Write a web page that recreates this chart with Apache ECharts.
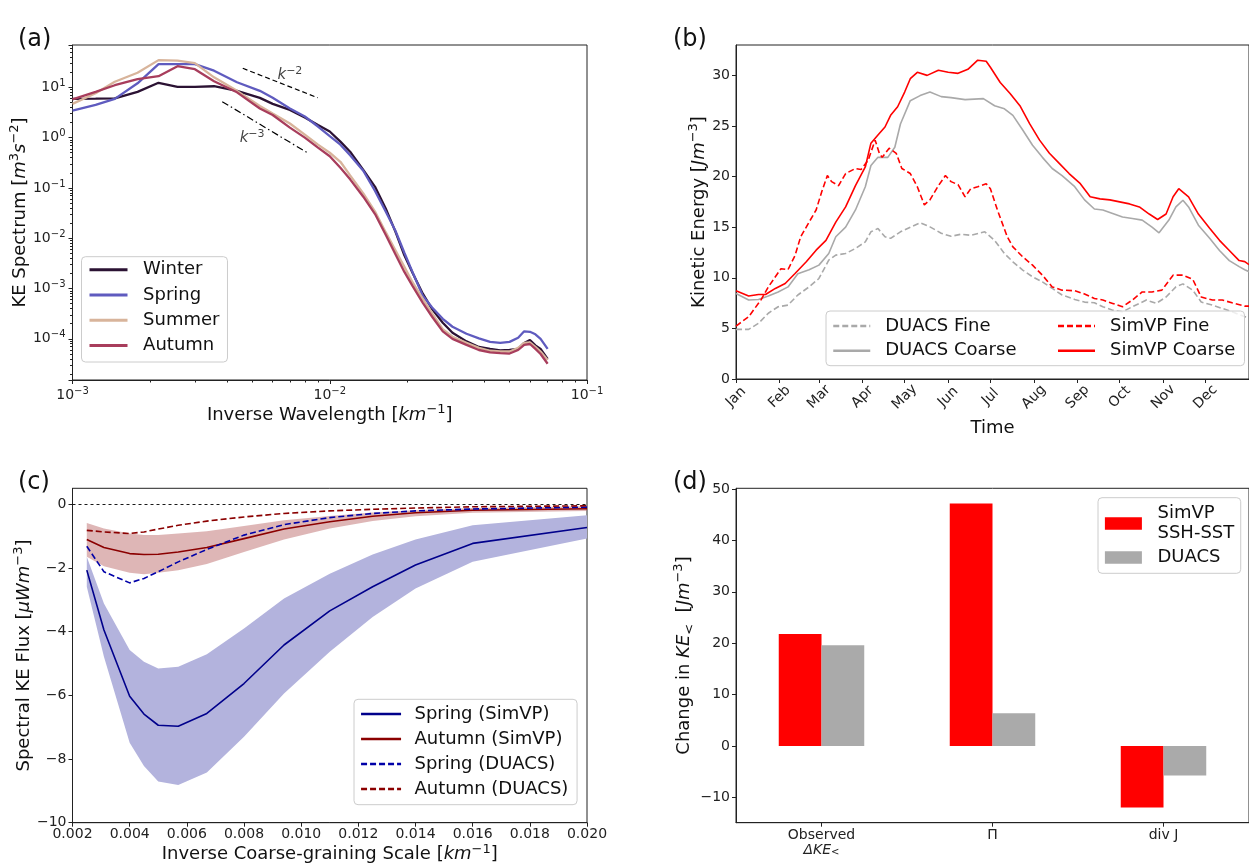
<!DOCTYPE html>
<html>
<head>
<meta charset="utf-8">
<script src="https://cdn.jsdelivr.net/npm/echarts@6/dist/echarts.min.js"></script>
<style>
  html, body { margin: 0; background: #fff; }
  #chart { width: 1249px; height: 865px; }
</style>
</head>
<body>
<div id="chart"></div>
<script>
const FONT = "DejaVu Sans";
const INK = "#222";

// (a) KE spectrum per season
let waveK = [0.00100, 0.00123, 0.00146, 0.00179, 0.00216, 0.00256, 0.00299, 0.00355, 0.00436, 0.00535,
  0.00600, 0.00700, 0.00800, 0.00900, 0.0100, 0.0110, 0.0120, 0.0135, 0.0150, 0.0165,
  0.0180, 0.0195, 0.0210, 0.0230, 0.0250, 0.0275, 0.0300, 0.0340, 0.0380, 0.0420,
  0.0460, 0.0500, 0.0540, 0.0570, 0.0600, 0.0630, 0.0660, 0.0703];
let winterKE = [5.89, 5.96, 6.03, 8.13, 12.3, 10.2, 10.2, 10.5, 8.51, 6.17,
  4.68, 3.55, 2.51, 1.78, 1.32, 0.832, 0.525, 0.229, 0.105, 0.0389,
  0.0135, 0.00457, 0.00204, 7.9e-4, 3.9e-4, 2.09e-4, 1.32e-4, 8.9e-5, 6.9e-5, 6.3e-5,
  5.9e-5, 6.0e-5, 6.3e-5, 8.3e-5, 9.5e-5, 7.4e-5, 6.3e-5, 4.0e-5];
let springKE = [3.43, 4.47, 5.89, 12.0, 28.8, 28.8, 28.8, 21.4, 12.6, 8.5,
  6.17, 3.80, 2.63, 1.66, 1.07, 0.724, 0.447, 0.219, 0.087, 0.0339,
  0.0141, 0.00513, 0.00209, 7.2e-4, 4.2e-4, 2.5e-4, 1.74e-4, 1.26e-4, 1.02e-4, 8.7e-5,
  8.3e-5, 8.7e-5, 1.05e-4, 1.41e-4, 1.38e-4, 1.23e-4, 1.0e-4, 6.3e-5];
let summerKE = [4.68, 7.59, 12.9, 19.5, 34.7, 33.9, 30.2, 15.8, 8.5, 4.27,
  3.02, 1.91, 1.15, 0.724, 0.50, 0.331, 0.178, 0.0776, 0.0339, 0.0132,
  0.00575, 0.00269, 0.00132, 6.2e-4, 3.2e-4, 1.55e-4, 1.10e-4, 8.3e-5, 6.6e-5, 5.8e-5,
  5.6e-5, 5.6e-5, 6.6e-5, 8.3e-5, 8.5e-5, 6.9e-5, 5.6e-5, 3.8e-5];
let autumnKE = [5.75, 8.13, 11.0, 14.5, 16.6, 26.3, 22.9, 13.2, 7.94, 3.80,
  2.82, 1.58, 1.0, 0.631, 0.427, 0.251, 0.148, 0.0668, 0.0302, 0.0117,
  0.00479, 0.00214, 0.00112, 5.2e-4, 2.75e-4, 1.41e-4, 1.0e-4, 7.6e-5, 6.0e-5, 5.4e-5,
  5.2e-5, 5.1e-5, 6.0e-5, 7.6e-5, 7.9e-5, 6.3e-5, 5.0e-5, 3.2e-5];
let slope2K = [0.00459, 0.00898];
let slope2E = [23.9, 6.2];
let slope3K = [0.00382, 0.00813];
let slope3E = [5.18, 0.51];
let slopeTagK = [0.0070, 0.00499];
let slopeTagE = [17.6, 0.98];
let slopeTags = ["−2", "−3"];

// (b) daily kinetic energy, x = day of year
let monthStart = [0, 31, 59, 90, 120, 151, 181, 212, 243, 273, 304, 334];
let monthNames = ["Jan", "Feb", "Mar", "Apr", "May", "Jun", "Jul", "Aug", "Sep", "Oct", "Nov", "Dec"];
let keTicks = [0, 5, 10, 15, 20, 25, 30];
let simCoarseDay = [0, 9, 16, 21, 28, 35, 42, 50, 57, 64, 71, 78, 85, 92, 96, 101, 106, 110, 115, 120,
  124, 129, 136, 144, 151, 158, 165, 172, 178, 181, 188, 195, 202, 209, 216, 223, 230, 237, 245, 252,
  259, 266, 273, 280, 287, 294, 300, 306, 311, 315, 322, 329, 337, 344, 351, 358, 362, 365];
let simCoarseKE = [8.72, 8.2, 8.35, 8.35, 8.95, 9.44, 10.43, 11.58, 12.73, 13.7, 15.5, 17.0, 19.1, 20.95, 23.3, 24.1, 24.9, 26.05, 26.9, 28.35,
  29.67, 30.3, 30.0, 30.5, 30.3, 30.2, 30.6, 31.5, 31.4, 30.8, 29.3, 28.2, 27.0, 25.2, 23.6, 22.3, 21.3, 20.3, 19.3, 18.0,
  17.8, 17.7, 17.5, 17.3, 17.0, 16.3, 15.76, 16.3, 18.0, 18.8, 18.0, 16.3, 14.9, 13.7, 12.7, 11.7, 11.6, 11.3];
let duacsCoarseDay = [0, 9, 16, 23, 30, 37, 44, 52, 59, 66, 71, 78, 85, 92, 96, 101, 108, 113, 117, 124,
  131, 138, 146, 153, 163, 176, 184, 191, 197, 204, 211, 218, 225, 232, 241, 248, 255, 261, 268, 275,
  282, 289, 296, 301, 308, 313, 318, 322, 329, 337, 344, 351, 358, 362, 365];
let duacsCoarseKE = [8.45, 7.8, 7.86, 8.2, 8.6, 9.1, 10.4, 10.8, 11.25, 12.4, 14.05, 15.0, 16.7, 19.0, 21.1, 21.9, 21.9, 22.9, 25.2, 27.5,
  28.0, 28.35, 27.9, 27.8, 27.6, 27.7, 27.0, 26.7, 26.05, 24.6, 23.1, 21.9, 20.8, 20.1, 19.0, 17.7, 16.8, 16.7, 16.35, 16.0,
  15.85, 15.7, 15.0, 14.44, 15.7, 17.0, 17.66, 17.0, 15.2, 13.9, 12.7, 11.7, 11.1, 10.8, 10.6];
let simFineDay = [0, 9, 14, 18, 23, 28, 32, 37, 42, 46, 52, 57, 61, 65, 68, 73, 78, 85, 89, 94,
  99, 102, 104, 109, 114, 118, 124, 129, 134, 138, 144, 149, 153, 158, 163, 167, 172, 178, 181, 186,
  193, 197, 204, 211, 218, 225, 232, 241, 248, 255, 261, 268, 275, 282, 289, 296, 303, 311, 318, 325,
  331, 339, 346, 353, 362, 365];
let simFineKE = [5.23, 6.15, 7.1, 7.86, 9.1, 10.1, 10.9, 10.8, 12.2, 14.05, 15.5, 16.7, 18.5, 20.1, 19.5, 19.1, 20.3, 20.8, 20.7, 21.6,
  23.6, 22.3, 21.9, 22.8, 22.3, 20.8, 20.3, 19.0, 17.2, 17.7, 19.1, 20.1, 19.5, 19.2, 18.0, 18.8, 19.0, 19.3, 18.8, 16.7,
  14.05, 13.06, 12.07, 11.25, 10.26, 9.1, 8.78, 8.72, 8.4, 7.96, 7.8, 7.47, 7.14, 7.8, 8.6, 8.6, 8.78, 10.26, 10.26, 9.84,
  8.1, 7.8, 7.8, 7.53, 7.2, 7.2];
let duacsFineDay = [0, 9, 16, 23, 30, 37, 44, 52, 59, 66, 71, 78, 85, 92, 96, 101, 106, 110, 117, 124,
  131, 138, 146, 153, 160, 167, 177, 184, 191, 197, 204, 211, 218, 225, 232, 241, 248, 255, 261, 268,
  275, 282, 292, 299, 306, 313, 318, 325, 331, 339, 346, 353, 362, 365];
let duacsFineKE = [4.9, 4.9, 5.5, 6.5, 7.14, 7.3, 8.3, 9.1, 9.93, 11.74, 12.24, 12.4, 12.9, 13.55, 14.54, 14.87, 14.05, 13.9, 14.54, 15.0,
  15.43, 15.03, 14.4, 14.1, 14.3, 14.2, 14.54, 13.7, 12.4, 11.58, 10.76, 10.1, 9.6, 8.95, 8.3, 7.86, 7.6, 7.53, 7.14, 6.8,
  6.64, 7.14, 7.8, 7.47, 8.1, 9.1, 9.4, 8.78, 7.6, 7.3, 6.97, 6.64, 6.15, 6.1];

// (c) spectral KE flux vs inverse coarse-graining scale
let scaleK = [0.0025, 0.0031, 0.0040, 0.0045, 0.0050, 0.0057, 0.0067, 0.0080, 0.0094, 0.0110, 0.0125, 0.0140, 0.0160, 0.0200];
let springSim = [-2.07, -3.95, -6.03, -6.59, -6.94, -6.97, -6.57, -5.63, -4.42, -3.35, -2.59, -1.91, -1.23, -0.73];
let springLo = [-2.59, -4.79, -7.49, -8.22, -8.71, -8.82, -8.42, -7.30, -5.94, -4.63, -3.54, -2.65, -1.81, -1.08];
let springHi = [-1.65, -3.12, -4.58, -4.95, -5.16, -5.10, -4.71, -3.90, -2.96, -2.18, -1.58, -1.11, -0.66, -0.35];
let autumnSim = [-1.11, -1.36, -1.55, -1.58, -1.57, -1.50, -1.36, -1.08, -0.78, -0.55, -0.38, -0.27, -0.19, -0.14];
let autumnLo = [-1.65, -1.95, -2.15, -2.20, -2.15, -2.07, -1.88, -1.50, -1.11, -0.76, -0.53, -0.38, -0.27, -0.21];
let autumnHi = [-0.59, -0.76, -0.92, -0.97, -0.97, -0.92, -0.85, -0.68, -0.50, -0.37, -0.26, -0.19, -0.12, -0.06];
let springDuacs = [-1.32, -2.12, -2.47, -2.33, -2.12, -1.81, -1.42, -0.97, -0.64, -0.42, -0.29, -0.21, -0.15, -0.09];
let autumnDuacs = [-0.82, -0.87, -0.92, -0.87, -0.78, -0.66, -0.53, -0.40, -0.29, -0.21, -0.16, -0.12, -0.08, -0.05];
let fluxXTicks = [0.002, 0.004, 0.006, 0.008, 0.010, 0.012, 0.014, 0.016, 0.018, 0.020];
let fluxYTicks = [-10, -8, -6, -4, -2, 0];

// (d) change in KE budget
let budgetTerms = ["Observed", "Π", "div J"];
let simvpChange = [21.8, 47.2, -12.0];
let duacsChange = [19.6, 6.35, -5.77];
let budgetTicks = [-10, 0, 10, 20, 30, 40, 50];

// minor ticks for the log axes of (a)
let minorK = [];
let minorE = [];
for (let d = -5; d <= 1; d++) {
  for (let m = 2; m <= 9; m++) {
    let v = m * Math.pow(10, d);
    if (d >= -3 && d <= -2) minorK.push(v);
    if (v > 1.52e-5 && v < 69) minorE.push(v);
  }
}

function pairs(xs, ys) {
  return xs.map((x, i) => [x, ys[i]]);
}
function minus(v) {
  return String(v).replace("-", "−");
}
function powLabel(v) {
  let e = Math.log10(v);
  if (Math.abs(e - Math.round(e)) > 1e-6) return "";
  return "{b|10}{s|" + minus(Math.round(e)) + "}";
}

let lineCol = { color: INK, width: 1 };
let tickText = { color: INK, fontSize: 14, fontFamily: FONT };
let powRich = {
  b: { fontSize: 14, lineHeight: 18, fontFamily: FONT, color: INK },
  s: { fontSize: 10, lineHeight: 10, verticalAlign: "top", fontFamily: FONT, color: INK }
};
let nameRich = {
  n: { fontSize: 18, lineHeight: 24, fontFamily: FONT, color: "#111" },
  i: { fontSize: 18, lineHeight: 24, fontStyle: "italic", fontFamily: FONT, color: "#111" },
  s: { fontSize: 13, lineHeight: 12, verticalAlign: "top", fontFamily: FONT, color: "#111" },
  u: { fontSize: 13, lineHeight: 12, verticalAlign: "bottom", fontFamily: FONT, color: "#111" }
};
let legText = { fontSize: 18, lineHeight: 20, fontFamily: FONT, color: "#111" };
let legFrame = {
  borderColor: "#ccc",
  borderWidth: 1,
  borderRadius: 4,
  backgroundColor: "rgba(255,255,255,0.8)"
};
// hide the dot ECharts puts on line legend icons
let noDot = { color: "rgba(0,0,0,0)", borderColor: "rgba(0,0,0,0)", borderWidth: 0 };
let gridBox = { show: true, borderColor: INK, borderWidth: 1, backgroundColor: "#fff" };

function baseAxis(extra) {
  return Object.assign({
    axisLine: { show: true, onZero: false, lineStyle: lineCol },
    axisTick: { show: true, length: 4, lineStyle: lineCol },
    splitLine: { show: false },
    nameLocation: "middle",
    nameTextStyle: { rich: nameRich }
  }, extra);
}

let seasonCols = { Winter: "#2b1233", Spring: "#5f5bbf", Summer: "#d8b49b", Autumn: "#a83d5c" };
let seasonData = { Winter: winterKE, Spring: springKE, Summer: summerKE, Autumn: autumnKE };

let series = [];
["Winter", "Spring", "Summer", "Autumn"].forEach(function (s) {
  series.push({
    name: s, type: "line", xAxisIndex: 0, yAxisIndex: 0, symbol: "none",
    data: pairs(waveK, seasonData[s]),
    lineStyle: { color: seasonCols[s], width: 2.3 },
    itemStyle: { color: seasonCols[s] }
  });
});
series.push({
  type: "line", xAxisIndex: 0, yAxisIndex: 0, symbol: "none", silent: true,
  data: pairs(slope2K, slope2E), lineStyle: { color: "#000", width: 1.2, type: [5, 3] }
});
series.push({
  type: "line", xAxisIndex: 0, yAxisIndex: 0, symbol: "none", silent: true,
  data: pairs(slope3K, slope3E), lineStyle: { color: "#000", width: 1.2, type: [7, 3, 1.5, 3] }
});
series.push({
  type: "scatter", xAxisIndex: 0, yAxisIndex: 0, symbolSize: 1, silent: true,
  itemStyle: { color: "rgba(0,0,0,0)" },
  data: slopeTagK.map((k, i) => ({ value: [k, slopeTagE[i]], tag: slopeTags[i] })),
  label: {
    show: true, position: "inside",
    formatter: p => "{i|k}{s|" + p.data.tag + "}",
    rich: {
      i: { fontSize: 15, lineHeight: 18, fontStyle: "italic", fontFamily: FONT, color: "#111" },
      s: { fontSize: 11, lineHeight: 10, verticalAlign: "top", fontFamily: FONT, color: "#111" }
    }
  }
});

// (b)
let keLines = [
  ["DUACS Fine", duacsFineDay, duacsFineKE, "#a9a9a9", [6, 3]],
  ["DUACS Coarse", duacsCoarseDay, duacsCoarseKE, "#a9a9a9", "solid"],
  ["SimVP Fine", simFineDay, simFineKE, "#ff0000", [6, 3]],
  ["SimVP Coarse", simCoarseDay, simCoarseKE, "#ff0000", "solid"]
];
keLines.forEach(function (l) {
  series.push({
    name: l[0], type: "line", xAxisIndex: 2, yAxisIndex: 2, symbol: "none",
    data: pairs(l[1], l[2]),
    lineStyle: { color: l[3], width: 1.6, type: l[4] },
    itemStyle: { color: l[3] }
  });
});

// (c) shaded spread, drawn as one polygon through the axis scales
function band(lo, hi, col) {
  series.push({
    type: "custom", xAxisIndex: 3, yAxisIndex: 3, silent: true,
    data: scaleK.map((k, i) => [k, lo[i], hi[i]]),
    encode: { x: 0, y: [1, 2] },
    renderItem: function (params, api) {
      if (params.dataIndex !== 0) return null;
      let upper = scaleK.map((k, i) => api.coord([k, hi[i]]));
      let lower = scaleK.map((k, i) => api.coord([k, lo[i]])).reverse();
      return { type: "polygon", shape: { points: upper.concat(lower) }, style: { fill: col } };
    }
  });
}
band(springLo, springHi, "#b3b3dd");
band(autumnLo, autumnHi, "rgba(190,110,110,0.5)");
let fluxLines = [
  ["Spring (SimVP)", springSim, "#00008b", "solid"],
  ["Autumn (SimVP)", autumnSim, "#8b0000", "solid"],
  ["Spring (DUACS)", springDuacs, "#0000a8", [6, 3]],
  ["Autumn (DUACS)", autumnDuacs, "#8b0000", [6, 3]]
];
fluxLines.forEach(function (l, idx) {
  let s = {
    name: l[0], type: "line", xAxisIndex: 3, yAxisIndex: 3, symbol: "none",
    data: pairs(scaleK, l[1]),
    lineStyle: { color: l[2], width: 1.6, type: l[3] },
    itemStyle: { color: l[2] }
  };
  if (idx === 3) {
    s.markLine = {
      silent: true, symbol: "none", label: { show: false },
      lineStyle: { color: "#000", width: 0.9, type: [3, 3] },
      data: [{ yAxis: 0 }]
    };
  }
  series.push(s);
});

// (d)
series.push({
  name: "SimVP SSH-SST", type: "bar", xAxisIndex: 4, yAxisIndex: 4,
  data: simvpChange, barWidth: "25%", barGap: "0%", itemStyle: { color: "#ff0000" }
});
series.push({
  name: "DUACS", type: "bar", xAxisIndex: 4, yAxisIndex: 4,
  data: duacsChange, barWidth: "25%", barGap: "0%", itemStyle: { color: "#aaaaaa" }
});

let option = {
  animation: false,
  textStyle: { fontFamily: FONT },
  grid: [
    Object.assign({ left: 72.5, top: 45, width: 514.5, height: 335 }, gridBox),
    Object.assign({ left: 736, top: 45, right: -5, height: 334 }, gridBox),
    Object.assign({ left: 72.5, top: 488.3, width: 514.5, height: 334.4 }, gridBox),
    Object.assign({ left: 736, top: 488.3, right: -3, height: 334.4 }, gridBox)
  ],
  xAxis: [
    baseAxis({
      type: "log", logBase: 10, gridIndex: 0, min: 0.001, max: 0.1,
      axisLabel: { formatter: powLabel, margin: 6, rich: powRich },
      name: "{n|Inverse Wavelength [}{i|km}{s|−1}{n|]}", nameGap: 21
    }),
    {
      type: "log", logBase: 10, gridIndex: 0, min: 0.001, max: 0.1, position: "bottom",
      axisLine: { show: false }, axisLabel: { show: false }, splitLine: { show: false },
      axisTick: { show: true, length: 2.5, lineStyle: lineCol, customValues: minorK }
    },
    baseAxis({
      type: "value", gridIndex: 1, min: 0, max: 365,
      axisTick: { show: true, length: 4, lineStyle: lineCol, customValues: monthStart },
      axisLabel: Object.assign({
        customValues: monthStart, rotate: 45, align: "center", verticalAlign: "middle", margin: 18,
        formatter: v => monthNames[monthStart.indexOf(v)]
      }, tickText),
      name: "{n|Time}", nameGap: 37
    }),
    baseAxis({
      type: "value", gridIndex: 2, min: 0.002, max: 0.02,
      axisTick: { show: true, length: 4, lineStyle: lineCol, customValues: fluxXTicks },
      axisLabel: Object.assign({ customValues: fluxXTicks, margin: 5, formatter: v => v.toFixed(3) }, tickText),
      name: "{n|Inverse Coarse-graining Scale [}{i|km}{s|−1}{n|]}", nameGap: 20
    }),
    baseAxis({
      type: "category", gridIndex: 3, data: budgetTerms,
      axisTick: { show: true, length: 4, lineStyle: lineCol, alignWithLabel: true },
      axisLabel: {
        margin: 5, interval: 0,
        formatter: v => v === "Observed" ? "{n|Observed}\n{i|ΔKE}{u|<}" : "{n|" + v + "}",
        rich: {
          n: { fontSize: 14, lineHeight: 15, fontFamily: FONT, color: INK },
          i: { fontSize: 14, lineHeight: 15, fontStyle: "italic", fontFamily: FONT, color: INK },
          u: { fontSize: 10, lineHeight: 8, verticalAlign: "bottom", fontFamily: FONT, color: INK }
        }
      }
    })
  ],
  yAxis: [
    baseAxis({
      type: "log", logBase: 10, gridIndex: 0, min: 1.52e-5, max: 69.3, position: "left",
      axisLabel: { formatter: powLabel, margin: 7, rich: powRich },
      name: "{n|KE Spectrum [}{i|m}{s|3}{i|s}{s|−2}{n|]}", nameRotate: 90, nameGap: 38
    }),
    {
      type: "log", logBase: 10, gridIndex: 0, min: 1.52e-5, max: 69.3, position: "left",
      axisLine: { show: false }, axisLabel: { show: false }, splitLine: { show: false },
      axisTick: { show: true, length: 2.5, lineStyle: lineCol, customValues: minorE }
    },
    baseAxis({
      type: "value", gridIndex: 1, min: 0, max: 33, position: "left",
      axisTick: { show: true, length: 4, lineStyle: lineCol, customValues: keTicks },
      axisLabel: Object.assign({ customValues: keTicks, margin: 6 }, tickText),
      name: "{n|Kinetic Energy [}{i|Jm}{s|−3}{n|]}", nameRotate: 90, nameGap: 25
    }),
    baseAxis({
      type: "value", gridIndex: 2, min: -10, max: 0.5, position: "left",
      axisTick: { show: true, length: 4, lineStyle: lineCol, customValues: fluxYTicks },
      axisLabel: Object.assign({ customValues: fluxYTicks, margin: 6, formatter: minus }, tickText),
      name: "{n|Spectral KE Flux [}{i|μWm}{s|−3}{n|]}", nameRotate: 90, nameGap: 33
    }),
    baseAxis({
      type: "value", gridIndex: 3, min: -14.96, max: 50.16, position: "left",
      axisTick: { show: true, length: 4, lineStyle: lineCol, customValues: budgetTicks },
      axisLabel: Object.assign({ customValues: budgetTicks, margin: 6, formatter: minus }, tickText),
      name: "{n|Change in }{i|KE}{u|<}{n|  [}{i|Jm}{s|−3}{n|]}", nameRotate: 90, nameGap: 36
    })
  ],
  legend: [
    Object.assign({
      orient: "vertical", left: 81.5, top: 256.7, itemWidth: 38, itemHeight: 14, itemGap: 7.3,
      padding: [4, 8, 7.4, 6.5], data: ["Winter", "Spring", "Summer", "Autumn"],
      lineStyle: { width: 3 }, itemStyle: noDot,
      formatter: n => "{s| }{t|" + n + "}",
      textStyle: { fontSize: 18, rich: { s: { width: 10.6, lineHeight: 20 }, t: legText } }
    }, legFrame),
    Object.assign({
      orient: "horizontal", left: 826, top: 311, width: 410, itemWidth: 37, itemHeight: 14, itemGap: 6.7,
      padding: [6, 6.5, 6, 6], data: ["DUACS Fine", "SimVP Fine", "DUACS Coarse", "SimVP Coarse"],
      lineStyle: { width: 2.5 }, itemStyle: noDot,
      formatter: n => "{s| }{" + (n.indexOf("DUACS") === 0 ? "a" : "b") + "|" + n + "}",
      textStyle: {
        fontSize: 18,
        rich: {
          s: { width: 10, lineHeight: 20 },
          a: Object.assign({ width: 164.8 }, legText),
          b: Object.assign({ width: 128 }, legText)
        }
      }
    }, legFrame),
    Object.assign({
      orient: "vertical", left: 354, top: 699.3, itemWidth: 40, itemHeight: 14, itemGap: 7,
      padding: [5.7, 8.7, 6.7, 5.8],
      data: ["Spring (SimVP)", "Autumn (SimVP)", "Spring (DUACS)", "Autumn (DUACS)"],
      lineStyle: { width: 2.5 }, itemStyle: noDot,
      formatter: n => "{s| }{t|" + n + "}",
      textStyle: { fontSize: 18, rich: { s: { width: 8.4, lineHeight: 20 }, t: legText } }
    }, legFrame),
    Object.assign({
      orient: "vertical", left: 1098, top: 497.7, itemWidth: 37, itemHeight: 12.4, itemGap: 6,
      icon: "rect", padding: [6.8, 6.5, 6.8, 6.9], data: ["SimVP SSH-SST", "DUACS"],
      formatter: n => n === "SimVP SSH-SST" ? "{s| }{t|SimVP}\n{s| }{t|SSH-SST}" : "{s| }{t|" + n + "}",
      textStyle: { fontSize: 18, rich: { s: { width: 10.6, lineHeight: 20 }, t: legText } }
    }, legFrame)
  ],
  graphic: [
    { type: "text", left: 18, top: 28, style: { text: "(a)", fontSize: 24, fontFamily: FONT, fill: "#111" } },
    { type: "text", left: 673, top: 28, style: { text: "(b)", fontSize: 24, fontFamily: FONT, fill: "#111" } },
    { type: "text", left: 18, top: 471, style: { text: "(c)", fontSize: 24, fontFamily: FONT, fill: "#111" } },
    { type: "text", left: 673, top: 471, style: { text: "(d)", fontSize: 24, fontFamily: FONT, fill: "#111" } }
  ],
  series: series
};

let chart = echarts.init(document.getElementById("chart"));
chart.setOption(option);
</script>
</body>
</html>
